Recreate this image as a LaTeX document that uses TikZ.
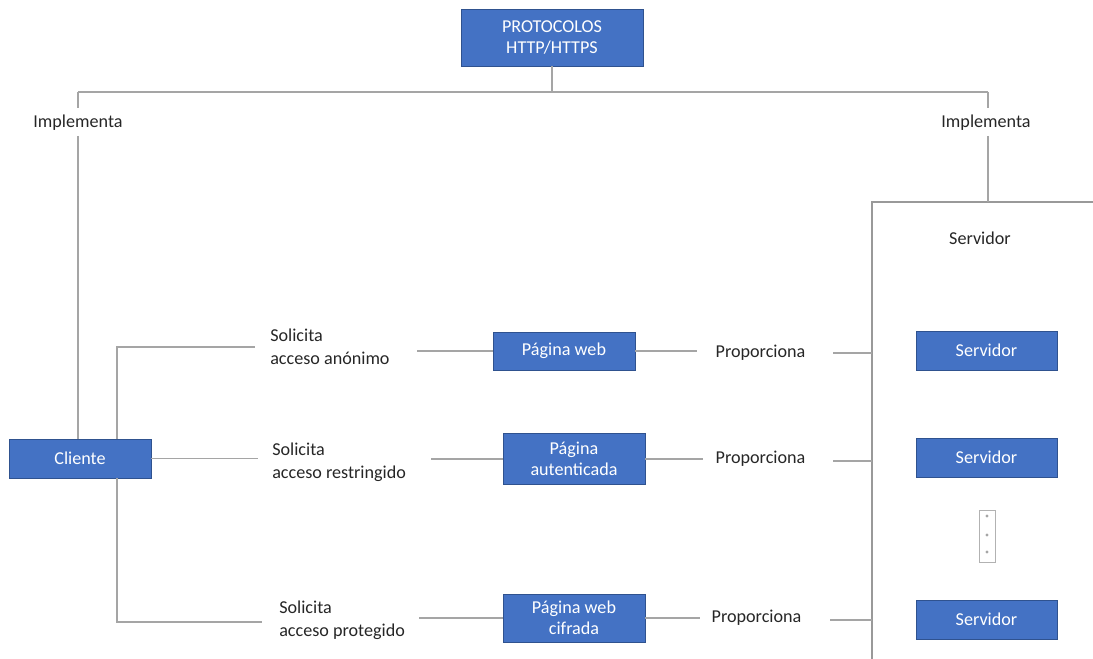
\documentclass[tikz,border=0pt]{standalone}
\usepackage{fontspec}
\setmainfont{Carlito}
\begin{document}
\definecolor{boxfill}{HTML}{4472C4}
\definecolor{boxedge}{HTML}{2F528F}
\definecolor{wire}{HTML}{A5A5A5}
\definecolor{ink}{HTML}{262626}
\begin{tikzpicture}[x=0.75pt,y=-0.75pt,
  bluebox/.style={draw=boxedge,line width=0.6pt,fill=boxfill,text=white,
    font=\fontsize{13.6}{15.5}\selectfont,align=center,inner sep=0pt},
  lbl/.style={text=ink,font=\fontsize{13.6}{17}\selectfont,align=left,inner sep=0pt},
  wireline/.style={draw=wire,line width=1pt}]
\useasboundingbox (0,0) rectangle (1093,659);

% top protocol box and its bus
\node[bluebox,minimum width=182*0.75pt,minimum height=57*0.75pt] (proto) at (552,37.5) {PROTOCOLOS\\HTTP/HTTPS};
\coordinate (bus) at (552,92);
\coordinate (busL) at (78,92);
\coordinate (busR) at (988,92);
\draw[wireline] (proto.south) -- (bus);
\draw[wireline] (busL) -- (busR);

\node[lbl,anchor=center] (implL) at (78,123) {Implementa};
\node[lbl,anchor=center] (implR) at (986,123) {Implementa};
\draw[wireline] (busL) -- ++(0,16);
\draw[wireline] (busR) -- ++(0,16);

% client
\node[bluebox,minimum width=142*0.75pt,minimum height=39*0.75pt] (cli) at (80,458.5) {Cliente};
\draw[wireline] (78,136) -- (78,439);

% server container (open to the right and bottom)
\coordinate (srvTL) at (872,202);
\draw[wireline,line width=1.1pt,draw=gray!80] (872,659) -- (srvTL) -- (1093,202);
\draw[wireline] (988,136) -- (988,202);
\node[lbl] (srvTitle) at (980,238) {Servidor};

\node[bluebox,minimum width=141*0.75pt,minimum height=39*0.75pt] (s1) at (986.5,350.5) {Servidor};
\node[bluebox,minimum width=141*0.75pt,minimum height=39*0.75pt] (s2) at (986.5,457.5) {Servidor};
\node[bluebox,minimum width=141*0.75pt,minimum height=39*0.75pt] (s3) at (986.5,619.5) {Servidor};

% ellipsis marker between servers
\node[draw=gray!60,line width=0.6pt,minimum width=16*0.75pt,minimum height=52*0.75pt,inner sep=0pt] (dots) at (987,536) {};
\foreach \yy in {516,535,552} \fill[gray!70] (987,\yy) circle (1.6);

% pages
\node[bluebox,minimum width=142*0.75pt,minimum height=38*0.75pt] (p1) at (564,351) {Página web};
\node[bluebox,minimum width=142*0.75pt,minimum height=51*0.75pt] (p2) at (574,459) {Página\\autenticada};
\node[bluebox,minimum width=142*0.75pt,minimum height=48*0.75pt] (p3) at (574,618) {Página web\\cifrada};

% request labels
\node[lbl,anchor=west] (r1) at (270,346.5) {Solicita\\acceso anónimo};
\node[lbl,anchor=west] (r2) at (272,462) {Solicita\\acceso restringido};
\node[lbl,anchor=west] (r3) at (279,620.5) {Solicita\\acceso protegido};

% provide labels
\node[lbl] (g1) at (760.5,353) {Proporciona};
\node[lbl] (g2) at (760.5,459) {Proporciona};
\node[lbl] (g3) at (756.5,618) {Proporciona};

% row 1: anonymous access
\draw[wireline] (117,439) |- (255,347);
\draw[wireline] (417,351) -- (p1.west);
\draw[wireline] (p1.east) -- (697,351);
\draw[wireline] (833,353) -- (872,353);

% row 2: restricted access
\draw[wireline] (cli.east) -- (258,458.5);
\draw[wireline] (431,459) -- (p2.west);
\draw[wireline] (p2.east) -- (703,459);
\draw[wireline] (833,461) -- (872,461);

% row 3: protected access
\draw[wireline] (117,478) |- (262,622);
\draw[wireline] (419,618) -- (p3.west);
\draw[wireline] (p3.east) -- (700,618);
\draw[wireline] (830,620) -- (872,620);
\end{tikzpicture}
\end{document}
